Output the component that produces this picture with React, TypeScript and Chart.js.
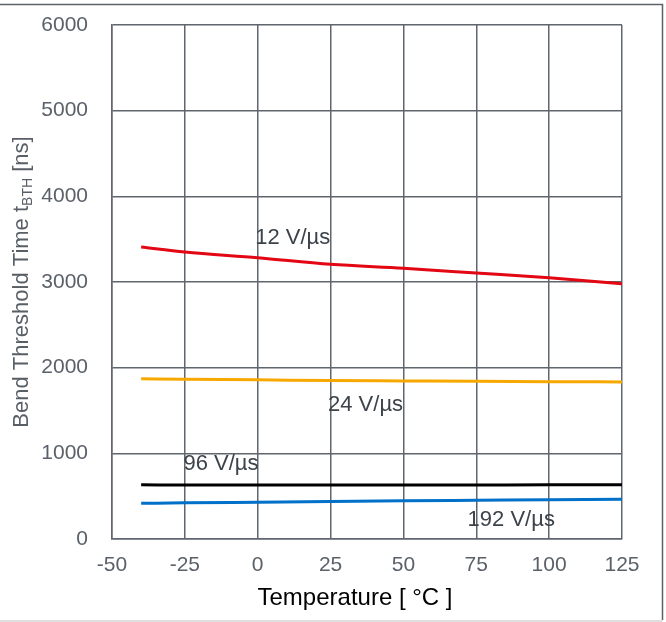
import React, { useEffect, useRef } from "react";
import { Chart, registerables } from "chart.js";

Chart.register(...registerables);

const temperatures = [-40, -25, 0, 25, 50, 75, 100, 125];
const s12 = [3408, 3350, 3283, 3206, 3160, 3105, 3050, 2980];
const s24 = [1870, 1865, 1858, 1850, 1845, 1840, 1837, 1833];
const s96 = [632, 631, 630, 630, 630, 631, 632, 634];
const s192 = [416, 422, 430, 438, 446, 452, 458, 464];

const seriesNames = ["12 V/µs", "24 V/µs", "96 V/µs", "192 V/µs"];
const seriesColors = ["#e30613", "#f7a800", "#000000", "#0070c8"];
const labelAnchors = [
  { x: 12, y: 3513 },
  { x: 37, y: 1564 },
  { x: -12.6, y: 875 },
  { x: 87, y: 222 },
];

const xTicks = [-50, -25, 0, 25, 50, 75, 100, 125];
const yTicks = [0, 1000, 2000, 3000, 4000, 5000, 6000];

const GRID = "#5f666e";
const FONT = "'Liberation Sans', Arial, sans-serif";

const overlay = {
  id: "overlay",
  afterDraw(chart: any) {
    const ctx = chart.ctx;
    const xs = chart.scales.x;
    const ys = chart.scales.y;
    ctx.save();
    // series labels
    ctx.font = `22px ${FONT}`;
    ctx.fillStyle = "#3c434b";
    ctx.textAlign = "center";
    ctx.textBaseline = "middle";
    seriesNames.forEach((n, i) => {
      ctx.fillText(n, xs.getPixelForValue(labelAnchors[i].x), ys.getPixelForValue(labelAnchors[i].y));
    });
    // x title
    ctx.fillStyle = "#000000";
    ctx.font = `24px ${FONT}`;
    ctx.fillText("Temperature [ °C ]", 355, 598);
    // y title with subscript
    ctx.translate(20, 282);
    ctx.rotate(-Math.PI / 2);
    ctx.fillStyle = "#595f66";
    const p1 = "Bend Threshold Time t";
    const sub = "BTH";
    const p2 = " [ns]";
    ctx.font = `22px ${FONT}`;
    const w1 = ctx.measureText(p1).width;
    const w3 = ctx.measureText(p2).width;
    ctx.font = `14px ${FONT}`;
    const w2 = ctx.measureText(sub).width;
    const total = w1 + w2 + w3;
    let cx = -total / 2;
    ctx.textAlign = "left";
    ctx.textBaseline = "alphabetic";
    ctx.font = `22px ${FONT}`;
    ctx.fillText(p1, cx, 8);
    cx += w1;
    ctx.font = `14px ${FONT}`;
    ctx.fillText(sub, cx, 12);
    cx += w2;
    ctx.font = `22px ${FONT}`;
    ctx.fillText(p2, cx, 8);
    ctx.restore();
    // frame
    ctx.save();
    ctx.lineWidth = 1.5;
    ctx.strokeStyle = "#5a6169";
    ctx.beginPath();
    ctx.moveTo(0, 4.5);
    ctx.lineTo(662.5, 4.5);
    ctx.lineTo(662.5, 620);
    ctx.stroke();
    ctx.strokeStyle = "#d4d4d4";
    ctx.beginPath();
    ctx.moveTo(0, 621);
    ctx.lineTo(662.5, 621);
    ctx.stroke();
    ctx.restore();
  },
};

export default function App() {
  const ref = useRef<HTMLCanvasElement | null>(null);
  useEffect(() => {
    if (!ref.current) return;
    const all = [s12, s24, s96, s192];
    const chart = new Chart(ref.current, {
      type: "line",
      data: {
        datasets: all.map((d, i) => ({
          label: seriesNames[i],
          data: temperatures.map((t, j) => ({ x: t, y: d[j] })),
          borderColor: seriesColors[i],
          borderWidth: 3,
          pointRadius: 0,
          tension: 0.4,
          cubicInterpolationMode: "monotone" as const,
          fill: false,
        })),
      },
      options: {
        animation: false,
        responsive: false,
        maintainAspectRatio: false,
        layout: { padding: { left: 0, top: 25, right: 44, bottom: 0 } },
        plugins: { legend: { display: false }, tooltip: { enabled: false } },
        scales: {
          x: {
            type: "linear",
            min: -50,
            max: 125,
            afterBuildTicks: (s: any) => {
              s.ticks = xTicks.map((v) => ({ value: v }));
            },
            afterFit: (s: any) => {
              s.height = 83;
              s.paddingLeft = 0;
              s.paddingRight = 0;
              s.paddingTop = 0;
              s.paddingBottom = 0;
            },
            grid: { color: GRID, lineWidth: 1.5, drawTicks: false },
            border: { color: GRID, width: 1.5 },
            ticks: {
              padding: 14,
              color: "#5a6169",
              font: { family: FONT, size: 21 },
              maxRotation: 0,
              callback: (v: any) => String(v),
            },
          },
          y: {
            type: "linear",
            min: 0,
            max: 6000,
            afterBuildTicks: (s: any) => {
              s.ticks = yTicks.map((v) => ({ value: v }));
            },
            afterFit: (s: any) => {
              s.width = 112;
              s.paddingLeft = 0;
              s.paddingRight = 0;
              s.paddingTop = 0;
              s.paddingBottom = 0;
            },
            grid: { color: GRID, lineWidth: 1.5, drawTicks: false },
            border: { color: GRID, width: 1.5 },
            ticks: {
              padding: 24,
              color: "#5a6169",
              font: { family: FONT, size: 21 },
              callback: (v: any) => String(v),
            },
          },
        },
      },
      plugins: [overlay],
    });
    return () => chart.destroy();
  }, []);
  return (
    <div style={{ position: "absolute", left: 0, top: 0, width: 666, height: 622, background: "#fff" }}>
      <canvas ref={ref} width={666} height={622} style={{ width: 666, height: 622, display: "block" }} />
    </div>
  );
}
